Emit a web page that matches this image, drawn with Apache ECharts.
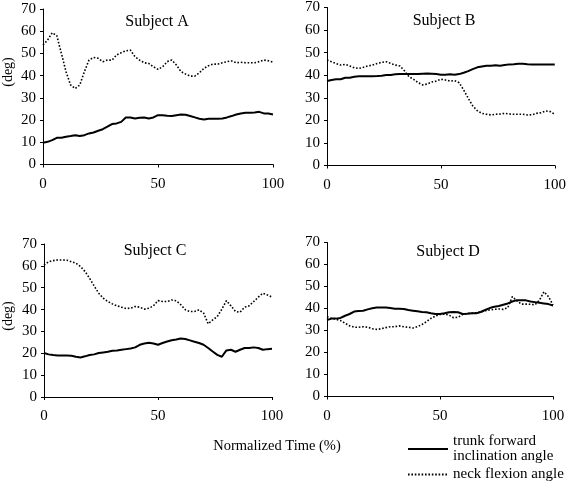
<!DOCTYPE html>
<html>
<head>
<meta charset="utf-8">
<script src="https://cdn.jsdelivr.net/npm/echarts@6/dist/echarts.min.js"></script>
<style>
html,body{margin:0;padding:0;background:#fff;}
#main{width:569px;height:484px;}
</style>
</head>
<body>
<div id="main"></div>
<script>
// Normalized time (%) sampled every 2 %
const timePct = [0,2,4,6,8,10,12,14,16,18,20,22,24,26,28,30,32,34,36,38,40,42,44,46,48,50,52,54,56,58,60,62,64,66,68,70,72,74,76,78,80,82,84,86,88,90,92,94,96,98,100];
const subjects = ['Subject A','Subject B','Subject C','Subject D'];
const trunkName = 'trunk forward\ninclination angle';
const neckName = 'neck flexion angle';
const yTicks = [0,10,20,30,40,50,60,70];
const xTicks = [0,50,100];

const trunkA = [9.8,10.2,11,12,12,12.5,12.8,13.2,12.8,13.2,14,14.4,15.2,15.9,17,18.2,18.5,19.2,21.2,21.2,20.7,21,21.2,20.7,21.2,22.2,22.2,21.9,21.8,22.2,22.5,22.4,21.8,21.2,20.6,20.3,20.6,20.6,20.6,20.7,21.2,21.8,22.5,23,23.3,23.3,23.4,23.7,23,23,22.5];
const neckA = [53.8,56,59.3,58,50,41.8,35.8,34.2,35.8,41.8,47,48.2,47.8,46.3,47,47,49.3,50.3,51.2,51.5,48.5,47,45.8,45.5,44,42.8,44,46.3,47,44.8,41.8,40.7,39.8,39.8,41.3,43.3,44.5,45.2,45.2,45.8,46.3,46.6,45.8,46,45.8,45.8,45.8,46.3,47,46.7,46];

const trunkB = [37.4,37.9,38.2,38.2,38.9,38.9,39.3,39.5,39.5,39.5,39.5,39.6,39.8,40.1,40.1,40.4,40.5,40.5,40.5,40.5,40.5,40.7,40.8,40.7,40.5,40.2,40.2,40.4,40.2,40.5,41.1,41.8,42.7,43.5,43.9,44.2,44.2,44.4,44.2,44.5,44.8,44.9,45.1,45.1,44.9,44.8,44.8,44.8,44.8,44.8,44.8];
const neckB = [46.7,46,45.2,44.5,44.8,44.1,43.3,43,43.5,44.1,44.5,45.2,45.7,46,45.2,44.5,44.1,42,39.3,38.2,36.7,35.7,36.1,37,37.4,38.2,37.9,37.4,37.6,36.7,33.5,29.8,26.4,24.3,23.1,22.7,22.4,22.7,22.8,23.1,22.8,22.7,22.7,22.7,22.4,22.5,23.1,23.4,24.2,23.9,22.7];

const trunkC = [20.1,19.5,19.2,19,19,19,18.9,18.4,18.1,18.6,19.2,19.5,20.1,20.4,20.7,21.2,21.3,21.6,21.9,22.2,22.7,23.9,24.5,24.8,24.5,23.9,24.7,25.4,26,26.3,26.8,26.5,25.9,25.3,24.7,23.9,22.4,20.8,19.3,18.4,21.3,21.6,20.7,21.6,22.4,22.4,22.7,22.4,21.6,21.9,22.1];
const neckC = [60.4,61.9,62.4,62.7,62.7,62.6,61.9,61.2,59.7,57.4,54.3,50.8,47.5,45.2,43.7,42.6,41.7,41.1,40.5,40.6,41.4,41.1,40.2,40.6,41.7,44.1,43.7,43.7,44.4,44,42.2,39.9,39.1,39.1,39.9,38.4,33.5,35.3,36.8,40.2,44.1,41.7,39.1,38.8,41.1,41.7,43.7,45.7,47.5,46.7,45.7];

const trunkD = [34.8,35.4,35.4,35.7,36.7,37.5,38.6,38.9,39,39.6,40.1,40.5,40.5,40.5,40.2,39.9,39.9,39.8,39.3,39,38.7,38.4,38.3,37.8,37.5,37.5,37.8,38.3,38.4,38.3,37.5,37.6,37.8,37.8,38.4,39.3,40.2,40.8,41.1,41.7,42.3,43.2,43.8,43.7,43.7,43.2,42.9,42.6,42.3,42,41.4];
const neckD = [36.3,35.5,35.1,34.5,33.3,32.1,31.5,31.5,31.7,31.5,30.8,30.5,30.8,31.3,31.7,31.7,32.1,31.7,31.5,31.1,31.7,32.7,34,35.5,36.6,37.3,37.5,37,35.8,36,37.3,37.8,37.8,38.1,38.4,39,39.3,39.6,39.8,39.6,40.4,45.4,43.5,42,42,41.9,41.7,43.8,47.6,45.4,41.6];

const trunkAll = [trunkA, trunkB, trunkC, trunkD];
const neckAll = [neckA, neckB, neckC, neckD];

const FONT = 'Liberation Serif';
const grids = [
  {left: 43, top: 9, width: 230, height: 155.5},
  {left: 327, top: 7.5, width: 229, height: 158},
  {left: 44, top: 244, width: 228, height: 153},
  {left: 327, top: 242.5, width: 226, height: 154}
];
const titlePos = [[157, 22], [444, 21], [155, 251], [448, 252]];

const axisCommon = {
  axisLine: {show: true, lineStyle: {color: '#000', width: 1}},
  axisTick: {show: true, inside: false, length: 3, lineStyle: {color: '#000'}},
  splitLine: {show: false}
};

const xAxes = [], yAxes = [], series = [], graphics = [];
for (let i = 0; i < 4; i++) {
  xAxes.push(Object.assign({
    type: 'value', gridIndex: i, min: xTicks[0], max: xTicks[xTicks.length - 1], interval: 50,
    axisLabel: {color: '#000', fontFamily: FONT, fontSize: 15, margin: 12}
  }, axisCommon));
  yAxes.push(Object.assign({
    type: 'value', gridIndex: i, min: yTicks[0], max: yTicks[yTicks.length - 1], interval: 10,
    axisLabel: {color: '#000', fontFamily: FONT, fontSize: 15, margin: 7}
  }, axisCommon));
  series.push({
    name: trunkName, type: 'line', xAxisIndex: i, yAxisIndex: i, showSymbol: false, symbol: 'none',
    data: timePct.map((t, k) => [t, trunkAll[i][k]]),
    lineStyle: {color: '#000', width: 2, type: 'solid'},
    itemStyle: {color: '#000'}, animation: false
  });
  series.push({
    name: neckName, type: 'line', xAxisIndex: i, yAxisIndex: i, showSymbol: false, symbol: 'none',
    data: timePct.map((t, k) => [t, neckAll[i][k]]),
    lineStyle: {color: '#000', width: 1.6, type: [1.6, 1.8]},
    itemStyle: {color: '#000'}, animation: false
  });
  graphics.push({
    type: 'text', x: titlePos[i][0], y: titlePos[i][1],
    style: {text: subjects[i], fill: '#000', font: '16px "' + FONT + '"', textAlign: 'center', textVerticalAlign: 'middle'}
  });
}
graphics.push({type: 'text', x: 8, y: 72, rotation: Math.PI / 2,
  style: {text: '(deg)', fill: '#000', font: '14px "' + FONT + '"', textAlign: 'center', textVerticalAlign: 'middle'}});
graphics.push({type: 'text', x: 8, y: 316, rotation: Math.PI / 2,
  style: {text: '(deg)', fill: '#000', font: '14px "' + FONT + '"', textAlign: 'center', textVerticalAlign: 'middle'}});
graphics.push({type: 'text', x: 277, y: 446,
  style: {text: 'Normalized Time (%)', fill: '#000', font: '14.5px "' + FONT + '"', textAlign: 'center', textVerticalAlign: 'middle'}});

const legendCommon = {
  itemWidth: 40, itemHeight: 14, selectedMode: false, orient: 'vertical',
  itemStyle: {opacity: 0, borderWidth: 0},
  textStyle: {color: '#000', fontFamily: FONT, fontSize: 15, lineHeight: 15}
};

const chart = echarts.init(document.getElementById('main'), null, {renderer: 'canvas'});
chart.setOption({
  backgroundColor: '#fff',
  animation: false,
  grid: grids,
  xAxis: xAxes,
  yAxis: yAxes,
  legend: [
    Object.assign({data: [trunkName], left: 402, top: 429}, legendCommon),
    Object.assign({data: [neckName], left: 402, top: 462}, legendCommon)
  ],
  series: series,
  graphic: graphics
});
</script>
</body>
</html>
